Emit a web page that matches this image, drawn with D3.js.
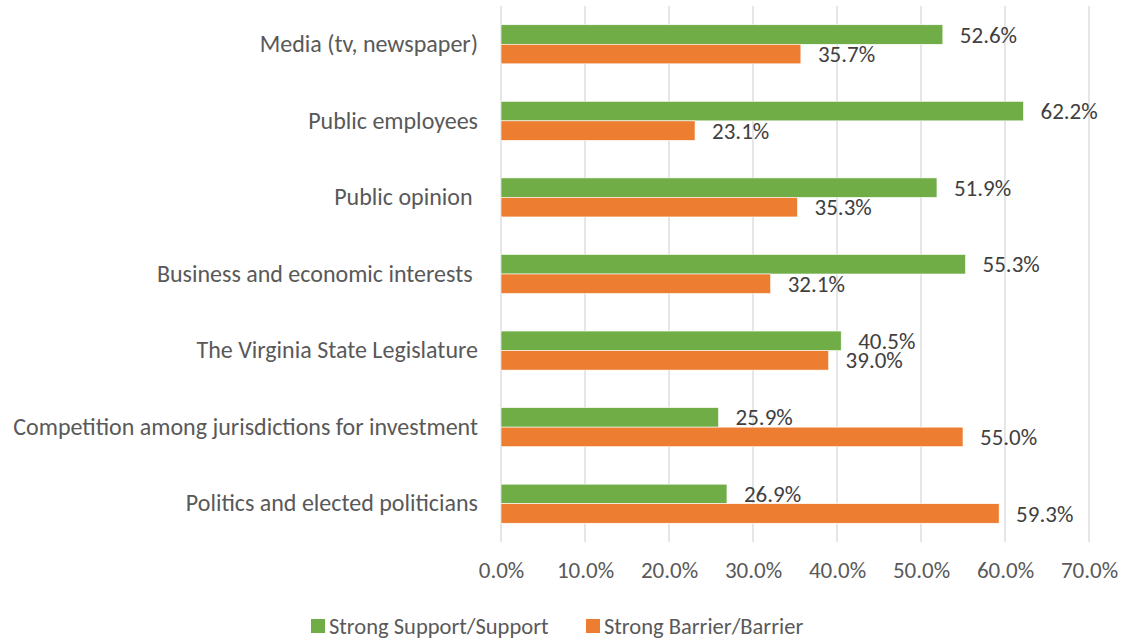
<!DOCTYPE html>
<html>
<head>
<meta charset="utf-8">
<script src="https://cdn.jsdelivr.net/npm/d3@7"></script>
<style>
  html, body { margin: 0; padding: 0; background: #ffffff; }
  svg { display: block; }
  text { font-family: Carlito, Calibri, Lato, "Open Sans", sans-serif; }
</style>
</head>
<body>
<svg id="chart" width="1124" height="641"></svg>
<script>
// Categories, top to bottom
const categories = [
  "Media (tv, newspaper)",
  "Public employees",
  "Public opinion ",
  "Business and economic interests ",
  "The Virginia State Legislature",
  "Competition among jurisdictions for investment",
  "Politics and elected politicians"
];
// Share of respondents (%)
const supportValues = [52.6, 62.2, 51.9, 55.3, 40.5, 25.9, 26.9];
const barrierValues = [35.7, 23.1, 35.3, 32.1, 39.0, 55.0, 59.3];
const seriesNames = ["Strong Support/Support", "Strong Barrier/Barrier"];
const seriesColors = ["#70AD47", "#ED7D31"];
const xTicks = [0, 10, 20, 30, 40, 50, 60, 70];

const svg = d3.select("#chart");
const margin = { left: 501, right: 35, top: 6, bottom: 99 };
const width = 1124 - margin.left - margin.right;
const height = 641 - margin.top - margin.bottom;

const g = svg.append("g").attr("transform", `translate(${margin.left},${margin.top})`);

const x = d3.scaleLinear().domain([0, 70]).range([0, width]);
const y = d3.scaleBand().domain(categories).range([0, height]).paddingInner(0.49).paddingOuter(0.245);
const ySeries = d3.scaleBand().domain([0, 1]).range([0, y.bandwidth()]);

// vertical gridlines
g.append("g").selectAll("line").data(xTicks).join("line")
  .attr("x1", d => x(d)).attr("x2", d => x(d))
  .attr("y1", 0).attr("y2", height)
  .attr("stroke", "#d9d9d9").attr("stroke-width", 1.3);

// x-axis tick labels
const xAxis = d3.axisBottom(x).tickValues(xTicks).tickSize(0).tickPadding(20)
  .tickFormat(d => d.toFixed(1) + "%");
const xg = g.append("g").attr("transform", `translate(0,${height})`).call(xAxis);
xg.select(".domain").remove();
xg.selectAll("text").attr("font-size", 23).attr("fill", "#595959")
  .style("font-family", "Carlito, Calibri, Lato, sans-serif");

// category labels
const yAxis = d3.axisLeft(y).tickSize(0).tickPadding(23);
const yg = g.append("g").call(yAxis);
yg.select(".domain").remove();
yg.selectAll("text").attr("font-size", 24).attr("fill", "#595959")
  .style("white-space", "pre")
  .style("font-family", "Carlito, Calibri, Lato, sans-serif");

const rows = categories.map((c, i) => ({ c, vals: [supportValues[i], barrierValues[i]] }));

const groups = g.append("g").selectAll("g").data(rows).join("g")
  .attr("transform", d => `translate(0,${y(d.c)})`);

groups.selectAll("rect").data(d => d.vals.map((v, k) => ({ v, k }))).join("rect")
  .attr("x", 0)
  .attr("y", d => ySeries(d.k))
  .attr("width", d => x(d.v))
  .attr("height", ySeries.bandwidth())
  .attr("fill", d => seriesColors[d.k])
  .attr("stroke", "#ffffff").attr("stroke-width", 0.6);

groups.selectAll("text.val").data(d => d.vals.map((v, k) => ({ v, k }))).join("text")
  .attr("class", "val")
  .attr("x", d => x(d.v) + 17)
  .attr("y", d => ySeries(d.k) + ySeries.bandwidth() / 2)
  .attr("dy", "0.35em")
  .attr("font-size", 23)
  .attr("fill", "#404040")
  .text(d => d.v.toFixed(1) + "%");

// legend
const legendItems = [{ x: 311 }, { x: 586 }];
const lg = svg.append("g").selectAll("g").data(seriesNames).join("g")
  .attr("transform", (d, i) => `translate(${legendItems[i].x},619)`);
lg.append("rect").attr("width", 14).attr("height", 14).attr("fill", (d, i) => seriesColors[i]);
lg.append("text").attr("x", 18).attr("y", 7).attr("dy", "0.35em")
  .attr("font-size", 22.5).attr("fill", "#595959").text(d => d);
</script>
</body>
</html>
